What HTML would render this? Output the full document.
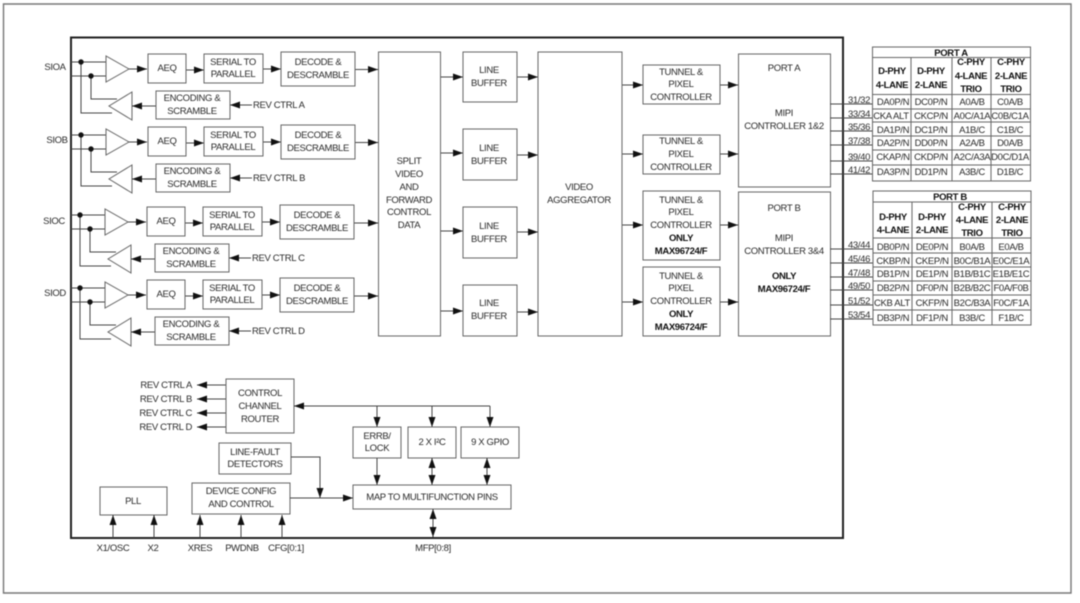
<!DOCTYPE html>
<html><head><meta charset="utf-8"><style>
html,body{margin:0;padding:0;background:#fff;width:1080px;height:603px;overflow:hidden}
svg{display:block;filter:blur(.45px)}
text{font-family:"Liberation Sans",sans-serif;font-size:9.5px;letter-spacing:-.35px;fill:#2a2a2a;text-anchor:middle}
.l{text-anchor:start}.e{text-anchor:end}
.b{font-weight:700;fill:#111}
rect,.t{fill:#fff;stroke:#666;stroke-width:1}
.w{stroke:#444;stroke-width:1;fill:none}
.a{stroke:#444;stroke-width:1;fill:none;marker-end:url(#m)}
.d{stroke:#444;stroke-width:1;fill:none;marker-end:url(#m);marker-start:url(#s)}
</style></head><body>
<svg width="1080" height="603" viewBox="0 0 1080 603" xmlns="http://www.w3.org/2000/svg">
<defs>
<marker id="m" markerUnits="userSpaceOnUse" markerWidth="10" markerHeight="7" refX="10" refY="3.5" orient="auto"><path d="M0 0L10 3.5L0 7z" fill="#111"/></marker>
<marker id="s" markerUnits="userSpaceOnUse" markerWidth="10" markerHeight="7" refX="0" refY="3.5" orient="auto"><path d="M10 0L0 3.5L10 7z" fill="#111"/></marker>
</defs>
<path d="M3.5 4H1071V593H3.5Z" fill="none" stroke="#777" stroke-width="1.4"/>
<path d="M71 37.5H843V538H71Z" fill="none" stroke="#222" stroke-width="2"/>

<text x="55" y="70">SIOA</text><text x="57" y="143">SIOB</text><text x="54" y="224">SIOC</text><text x="55" y="296">SIOD</text>

<g id="ra">
<path class="w" d="M71 62H106M71 76H106M81 62V113H112M91 76V99H117"/>
<circle cx="81" cy="62" r="2.7" fill="#111"/><circle cx="91" cy="76" r="2.7" fill="#111"/>
<path class="t" d="M106 56V82L129 69Z"/><path class="t" d="M132 92V120L109 106Z"/>
<path class="a" d="M129 69H147"/><path class="a" d="M186 70H204"/><path class="a" d="M263 69H281"/><path class="a" d="M355 69.5H378"/>
<path class="a" d="M156 106H132"/><path class="a" d="M252 105H230"/>
<rect x="148" y="54" width="38" height="29"/><text x="167" y="71">AEQ</text>
<rect x="204" y="54" width="59" height="29"/><text x="233" y="65">SERIAL TO</text><text x="233" y="77">PARALLEL</text>
<rect x="281" y="52" width="74" height="34"/><text x="318" y="65">DECODE &amp;</text><text x="318" y="78">DESCRAMBLE</text>
<rect x="156" y="91" width="74" height="28"/><text x="192" y="101">ENCODING &amp;</text><text x="192" y="114">SCRAMBLE</text>
<text class="l" x="253" y="108">REV CTRL A</text>
</g>
<g transform="translate(0,73)">
<path class="w" d="M71 62H106M71 76H106M81 62V113H112M91 76V99H117"/>
<circle cx="81" cy="62" r="2.7" fill="#111"/><circle cx="91" cy="76" r="2.7" fill="#111"/>
<path class="t" d="M106 56V82L129 69Z"/><path class="t" d="M132 92V120L109 106Z"/>
<path class="a" d="M129 69H147"/><path class="a" d="M186 70H204"/><path class="a" d="M263 69H281"/><path class="a" d="M355 69.5H378"/>
<path class="a" d="M156 106H132"/><path class="a" d="M252 105H230"/>
<rect x="148" y="54" width="38" height="29"/><text x="167" y="71">AEQ</text>
<rect x="204" y="54" width="59" height="29"/><text x="233" y="65">SERIAL TO</text><text x="233" y="77">PARALLEL</text>
<rect x="281" y="52" width="74" height="34"/><text x="318" y="65">DECODE &amp;</text><text x="318" y="78">DESCRAMBLE</text>
<rect x="156" y="91" width="74" height="28"/><text x="192" y="101">ENCODING &amp;</text><text x="192" y="114">SCRAMBLE</text>
<text class="l" x="253" y="108">REV CTRL B</text>
</g>
<g transform="translate(-1,153)">
<path class="w" d="M72 62H106M72 76H106M81 62V113H112M91 76V99H117"/>
<circle cx="81" cy="62" r="2.7" fill="#111"/><circle cx="91" cy="76" r="2.7" fill="#111"/>
<path class="t" d="M106 56V82L129 69Z"/><path class="t" d="M132 92V120L109 106Z"/>
<path class="a" d="M129 69H147"/><path class="a" d="M186 70H204"/><path class="a" d="M263 69H281"/><path class="a" d="M355 70H379"/>
<path class="a" d="M156 106H132"/><path class="a" d="M252 105H230"/>
<rect x="148" y="54" width="38" height="29"/><text x="167" y="71">AEQ</text>
<rect x="204" y="54" width="59" height="29"/><text x="233" y="65">SERIAL TO</text><text x="233" y="77">PARALLEL</text>
<rect x="281" y="52" width="74" height="34"/><text x="318" y="65">DECODE &amp;</text><text x="318" y="78">DESCRAMBLE</text>
<rect x="156" y="91" width="74" height="28"/><text x="192" y="101">ENCODING &amp;</text><text x="192" y="114">SCRAMBLE</text>
<text class="l" x="253" y="108">REV CTRL C</text>
</g>
<g transform="translate(-1,226)">
<path class="w" d="M72 62H106M72 76H106M81 62V113H112M91 76V99H117"/>
<circle cx="81" cy="62" r="2.7" fill="#111"/><circle cx="91" cy="76" r="2.7" fill="#111"/>
<path class="t" d="M106 56V82L129 69Z"/><path class="t" d="M132 92V120L109 106Z"/>
<path class="a" d="M129 69H147"/><path class="a" d="M186 70H204"/><path class="a" d="M263 69H281"/><path class="a" d="M355 70H379"/>
<path class="a" d="M156 106H132"/><path class="a" d="M252 105H230"/>
<rect x="148" y="54" width="38" height="29"/><text x="167" y="71">AEQ</text>
<rect x="204" y="54" width="59" height="29"/><text x="233" y="65">SERIAL TO</text><text x="233" y="77">PARALLEL</text>
<rect x="281" y="52" width="74" height="34"/><text x="318" y="65">DECODE &amp;</text><text x="318" y="78">DESCRAMBLE</text>
<rect x="156" y="91" width="74" height="28"/><text x="192" y="101">ENCODING &amp;</text><text x="192" y="114">SCRAMBLE</text>
<text class="l" x="253" y="108">REV CTRL D</text>
</g>

<path class="a" d="M440 77H463"/><path class="a" d="M440 153H463"/><path class="a" d="M440 231H463"/><path class="a" d="M440 311H463"/>
<path class="a" d="M517 77H538"/><path class="a" d="M517 155H538"/><path class="a" d="M517 232H538"/><path class="a" d="M517 312H538"/>
<path class="a" d="M622 85H643"/><path class="a" d="M622 154H643"/><path class="a" d="M622 225H643"/><path class="a" d="M622 302H643"/>
<path class="a" d="M720 85H738"/><path class="a" d="M720 154H738"/><path class="a" d="M720 225H738"/><path class="a" d="M720 302H738"/>

<rect x="378.500" y="52" width="62" height="284"/>
<text x="409" y="164">SPLIT</text><text x="409" y="177">VIDEO</text><text x="409" y="190">AND</text><text x="409" y="203">FORWARD</text><text x="409" y="215">CONTROL</text><text x="409" y="228">DATA</text>

<rect x="463" y="52" width="54" height="50"/><text x="489" y="73">LINE</text><text x="489" y="86">BUFFER</text>
<rect x="463" y="129" width="54" height="51"/><text x="489" y="151">LINE</text><text x="489" y="164">BUFFER</text>
<rect x="463" y="207" width="54" height="51"/><text x="489" y="229">LINE</text><text x="489" y="242">BUFFER</text>
<rect x="463" y="285" width="54" height="51"/><text x="489" y="306">LINE</text><text x="489" y="319">BUFFER</text>

<rect x="538" y="52" width="84" height="284"/><text x="579" y="190">VIDEO</text><text x="579" y="203">AGGREGATOR</text>

<rect x="643" y="65" width="77" height="39"/><text x="681" y="75">TUNNEL &amp;</text><text x="681" y="87">PIXEL</text><text x="681" y="100">CONTROLLER</text>
<rect x="643" y="135" width="77" height="39"/><text x="681" y="144">TUNNEL &amp;</text><text x="681" y="157">PIXEL</text><text x="681" y="170">CONTROLLER</text>
<rect x="643" y="191" width="77" height="69"/><text x="681" y="203">TUNNEL &amp;</text><text x="681" y="215">PIXEL</text><text x="681" y="228">CONTROLLER</text><text class="b" x="681" y="241">ONLY</text><text class="b" x="681" y="254">MAX96724/F</text>
<rect x="643" y="267" width="77" height="69"/><text x="681" y="279">TUNNEL &amp;</text><text x="681" y="291">PIXEL</text><text x="681" y="304">CONTROLLER</text><text class="b" x="681" y="317">ONLY</text><text class="b" x="681" y="330">MAX96724/F</text>

<rect x="738.500" y="54" width="92" height="133"/><text x="784" y="71">PORT A</text><text x="784" y="116">MIPI</text><text x="784" y="129">CONTROLLER 1&amp;2</text>
<rect x="738.500" y="192" width="92" height="144"/><text x="784" y="211">PORT B</text><text x="784" y="241">MIPI</text><text x="784" y="254">CONTROLLER 3&amp;4</text><text class="b" x="784" y="279">ONLY</text><text class="b" x="784" y="292">MAX96724/F</text>

<path class="w" d="M830 104H872M830 118H872M830 131H872M830 145H872M830 161H872M830 174H872"/>
<path class="w" d="M830 249H873M830 263H873M830 277H873M830 290H873M830 305H873M830 319H873"/>
<text x="859" y="103">31/32</text><text x="859" y="117">33/34</text><text x="859" y="130">35/36</text><text x="859" y="144">37/38</text><text x="859" y="160">39/40</text><text x="859" y="173">41/42</text>
<text x="859" y="248">43/44</text><text x="859" y="262">45/46</text><text x="859" y="276">47/48</text><text x="859" y="289">49/50</text><text x="859" y="304">51/52</text><text x="859" y="318">53/54</text>

<rect x="872.500" y="47" width="158" height="134"/>
<path d="M873 57.500H1031M873 94.500H1031M873 109H1031M873 122H1031M873 136H1031M873 150H1031M873 165H1031M911 57.500V181M952 57.500V181M991 57.500V181" stroke="#666" fill="none"/>
<text class="b" x="951" y="56">PORT A</text>
<text class="b" x="892" y="74">D-PHY</text><text class="b" x="892" y="88">4-LANE</text>
<text class="b" x="931" y="74">D-PHY</text><text class="b" x="931" y="88">2-LANE</text>
<text class="b" x="971" y="65">C-PHY</text><text class="b" x="971" y="79">4-LANE</text><text class="b" x="971" y="92">TRIO</text>
<text class="b" x="1011" y="65">C-PHY</text><text class="b" x="1011" y="79">2-LANE</text><text class="b" x="1011" y="92">TRIO</text>
<text x="893" y="105">DA0P/N</text><text x="931" y="105">DC0P/N</text><text x="972" y="105">A0A/B</text><text x="1010" y="105">C0A/B</text>
<text x="891" y="119">CKA ALT</text><text x="931" y="119">CKCP/N</text><text x="972" y="119">A0C/A1A</text><text x="1010" y="119">C0B/C1A</text>
<text x="893" y="133">DA1P/N</text><text x="931" y="133">DC1P/N</text><text x="972" y="133">A1B/C</text><text x="1010" y="133">C1B/C</text>
<text x="893" y="146">DA2P/N</text><text x="931" y="146">DD0P/N</text><text x="972" y="146">A2A/B</text><text x="1010" y="146">D0A/B</text>
<text x="893" y="160">CKAP/N</text><text x="931" y="160">CKDP/N</text><text x="972" y="160">A2C/A3A</text><text x="1010" y="160">D0C/D1A</text>
<text x="893" y="175">DA3P/N</text><text x="931" y="175">DD1P/N</text><text x="972" y="175">A3B/C</text><text x="1010" y="175">D1B/C</text>

<rect x="873" y="191" width="158" height="134"/>
<path d="M873 202H1031M873 238H1031M873 253H1031M873 267H1031M873 281H1031M873 295H1031M873 310H1031M912 202V325M952 202V325M992 202V325" stroke="#666" fill="none"/>
<text class="b" x="950" y="200">PORT B</text>
<text class="b" x="893" y="220">D-PHY</text><text class="b" x="893" y="233">4-LANE</text>
<text class="b" x="932" y="220">D-PHY</text><text class="b" x="932" y="233">2-LANE</text>
<text class="b" x="972" y="210">C-PHY</text><text class="b" x="972" y="223">4-LANE</text><text class="b" x="972" y="236">TRIO</text>
<text class="b" x="1012" y="210">C-PHY</text><text class="b" x="1012" y="223">2-LANE</text><text class="b" x="1012" y="236">TRIO</text>
<text x="893" y="250">DB0P/N</text><text x="932" y="250">DE0P/N</text><text x="972" y="250">B0A/B</text><text x="1011" y="250">E0A/B</text>
<text x="893" y="264">CKBP/N</text><text x="932" y="264">CKEP/N</text><text x="972" y="264">B0C/B1A</text><text x="1011" y="264">E0C/E1A</text>
<text x="893" y="277">DB1P/N</text><text x="932" y="277">DE1P/N</text><text x="972" y="277">B1B/B1C</text><text x="1011" y="277">E1B/E1C</text>
<text x="893" y="291">DB2P/N</text><text x="932" y="291">DF0P/N</text><text x="972" y="291">B2B/B2C</text><text x="1011" y="291">F0A/F0B</text>
<text x="892" y="306">CKB ALT</text><text x="932" y="306">CKFP/N</text><text x="972" y="306">B2C/B3A</text><text x="1011" y="306">F0C/F1A</text>
<text x="893" y="321">DB3P/N</text><text x="932" y="321">DF1P/N</text><text x="972" y="321">B3B/C</text><text x="1011" y="321">F1B/C</text>

<path class="a" d="M226 385H197"/><path class="a" d="M226 399H197"/><path class="a" d="M226 413H197"/><path class="a" d="M226 427H197"/>
<text class="e" x="192" y="388">REV CTRL A</text><text class="e" x="192" y="402">REV CTRL B</text><text class="e" x="192" y="416">REV CTRL C</text><text class="e" x="192" y="430">REV CTRL D</text>
<rect x="226" y="379" width="68" height="54"/><text x="260" y="396">CONTROL</text><text x="260" y="409">CHANNEL</text><text x="260" y="422">ROUTER</text>
<rect x="219" y="443" width="72" height="31"/><text x="255" y="455">LINE-FAULT</text><text x="255" y="467">DETECTORS</text>
<rect x="192" y="483" width="98" height="31"/><text x="241" y="494">DEVICE CONFIG</text><text x="241" y="507">AND CONTROL</text>
<rect x="100" y="487" width="67" height="28"/><text x="133" y="504">PLL</text>

<path class="a" d="M113 538V515"/><path class="a" d="M154 538V515"/><path class="a" d="M200 538V515"/><path class="a" d="M241 538V515"/><path class="a" d="M282 538V515"/>
<text x="113" y="551">X1/OSC</text><text x="153" y="551">X2</text><text x="200" y="551">XRES</text><text x="242" y="551">PWDNB</text><text x="286" y="551">CFG[0:1]</text>

<path class="a" d="M490 406H294"/><path class="a" d="M377 406V427"/><path class="a" d="M432 406V427"/><path class="a" d="M490 406V427"/>
<rect x="353" y="427" width="48" height="31"/><text x="377" y="439">ERRB/</text><text x="377" y="451">LOCK</text>
<rect x="408" y="427" width="48" height="31"/><text x="432" y="445">2 X I²C</text>
<rect x="461" y="427" width="58" height="31"/><text x="490" y="445">9 X GPIO</text>
<path class="a" d="M377 458V485"/><path class="d" d="M432 458V485"/><path class="d" d="M487 458V485"/>
<path class="a" d="M291 457H320V498"/><path class="a" d="M290 498H353"/>
<rect x="353" y="485" width="158" height="24"/><text x="432" y="500">MAP TO MULTIFUNCTION PINS</text>
<path class="d" d="M433 509V537"/><text x="433" y="551">MFP[0:8]</text>
</svg>
</body></html>
